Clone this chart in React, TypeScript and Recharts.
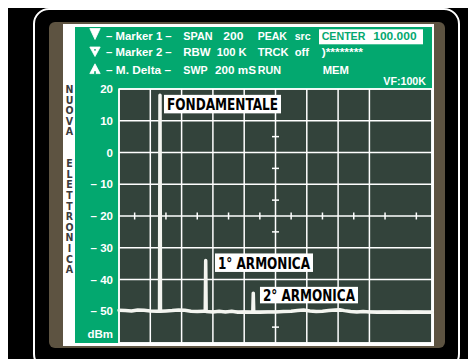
import { LineChart, Line, XAxis, YAxis, CartesianGrid, ReferenceDot, ReferenceArea } from "recharts";

// trace of the analyzer (x = position across the 200 span, y = dBm)
const traceX = [
  0, 4, 8, 12, 16, 20, 24, 25.9, 26.2, 26.5, 30, 34, 38, 42, 46, 50, 54, 55.1, 55.4, 55.7,
  60, 64, 68, 72, 76, 80, 84, 85.5, 85.8, 86.1, 90, 95, 100, 105, 110, 114, 118, 122, 126, 130,
  134, 138, 141, 144, 148, 152, 156, 160, 165, 170, 175, 180, 185, 190, 195, 200,
];
const traceDbm = [
  -49.7, -49.8, -49.9, -49.6, -49.7, -49.9, -50.0, -50.0, 18, -50.0, -49.9, -49.8, -49.6, -49.7, -50.0, -50.1, -50.0, -50.0, -34, -50.1,
  -50.2, -50.0, -50.2, -50.0, -50.3, -50.2, -50.3, -50.3, -44.3, -50.3, -50.3, -50.2, -50.2, -50.1, -50.0, -49.8, -49.6, -49.9, -50.1, -50.0,
  -49.8, -49.6, -49.5, -49.8, -50.1, -50.2, -50.1, -50.2, -50.3, -50.2, -50.3, -50.2, -50.3, -50.2, -50.3, -50.3,
];

const peakNames = ["FONDAMENTALE", "1° ARMONICA", "2° ARMONICA"];
const peakX = [26.2, 55.4, 85.8];
const peakDbm = [18, -34, -44.3];

const yTicks = [-60, -50, -40, -30, -20, -10, 0, 10, 20];
const xTicks = [0, 20, 40, 60, 80, 100, 120, 140, 160, 180, 200];
const midColX = [10, 30, 50, 70, 90, 110, 130, 150, 170, 190];
const midRowY = [15, 5, -5, -15, -25, -35, -45, -55];

const headerRows = [
  ["– Marker 1 –", "SPAN", "200", "PEAK", "src", "CENTER", "100.000"],
  ["– Marker 2 –", "RBW", "100 K", "TRCK", "off", ")********"],
  ["– M.  Delta –", "SWP", "200 mS", "RUN", "", "MEM"],
];
const brandLetters = "NUOVA  ELETTRONICA".split("");

const data = traceX.map((x, i) => ({ x, dbm: traceDbm[i] }));

const GREEN = "#03a86f";
const PLOT = "#33433b";
const BROWN = "#5d5341";
const SANS = "'Liberation Sans', Arial, sans-serif";
const NARROW = "'Liberation Sans Narrow', 'DejaVu Sans Condensed', 'Liberation Sans', sans-serif";

// header column layout: [x, width] per column, per row
const headerCols = [
  [[106, 65.7], [183.3, 29.3], [223.3, 20], [257.7, 29.3], [294.7, 16], [321.7, 43.7], [373.3, 43.3]],
  [[106, 65.7], [183.3, 27.3], [216.7, 30], [257.7, 31], [294.7, 14.3], [321.7, 41.3]],
  [[106, 65], [183.3, 24.3], [215, 41], [257.7, 23.3], [0, 0], [322.7, 26.3]],
];
const rowBase = [40, 56, 73.5];
const labelBox = [
  { dx: 4, dy: -0.5, w: 117, h: 18.5, tw: 111 },
  { dx: 9.3, dy: -7, w: 98, h: 18.5, tw: 92 },
  { dx: 6.7, dy: -6.3, w: 98, h: 16.5, tw: 92 },
];

function DbTick({ x, y, payload }: any) {
  const v = payload.value;
  const style = { fill: "#fff", fontFamily: SANS, fontWeight: 700, fontSize: 11.5 };
  if (v === -60) {
    return (
      <text x={x} y={y - 9} textAnchor="end" dominantBaseline="central" {...style}>
        dBm
      </text>
    );
  }
  return (
    <text x={x} y={y} textAnchor="end" dominantBaseline="central" {...style}>
      {v < 0 ? `– ${-v}` : `${v}`}
    </text>
  );
}

export default function App() {
  return (
    <div style={{ position: "relative", width: 468, height: 351, background: "#000", overflow: "hidden" }}>
      <style>{`body{overflow:hidden}`}</style>
      <div style={{ position: "absolute", left: 25, top: 0, width: 427, height: 362, border: "2px solid #fff", borderRadius: 16, boxSizing: "border-box" }} />
      <div style={{ position: "absolute", left: 41, top: 14, width: 396, height: 326, background: BROWN, borderRadius: 6 }} />
      <div style={{ position: "absolute", left: 55, top: 16, width: 371, height: 322, background: "#fff" }} />
      <div style={{ position: "absolute", left: 67, top: 19, width: 357, height: 316, background: GREEN }} />
      <div style={{ position: "absolute", left: 67, top: 19 }}>
        <LineChart width={360} height={318} data={data} margin={{ top: 62, right: 3, bottom: 2, left: 0 }}>
          <CartesianGrid
            stroke="#fff"
            strokeWidth={1.5}
            fill={PLOT}
            fillOpacity={1}
            horizontalValues={yTicks}
            verticalValues={xTicks}
          />
          <XAxis type="number" dataKey="x" domain={[0, 200]} ticks={xTicks} hide />
          <YAxis
            type="number"
            domain={[-60, 20]}
            ticks={yTicks}
            width={44}
            axisLine={false}
            tickLine={false}
            tickSize={0}
            tickMargin={6}
            interval={0}
            tick={<DbTick />}
          />
          <ReferenceArea x1={0} x2={200} y1={-60} y2={20} fill="none" stroke="#fff" strokeWidth={1.5} ifOverflow="visible" />
          {midColX.map((mx) => (
            <ReferenceDot
              key={"c" + mx}
              x={mx}
              y={-20}
              shape={(p: any) => <line x1={p.cx} x2={p.cx} y1={p.cy - 3.5} y2={p.cy + 3.5} stroke="#fff" strokeWidth={1.5} />}
            />
          ))}
          {midRowY.map((my) => (
            <ReferenceDot
              key={"r" + my}
              x={100}
              y={my}
              shape={(p: any) => <line x1={p.cx - 3.5} x2={p.cx + 3.5} y1={p.cy} y2={p.cy} stroke="#fff" strokeWidth={1.5} />}
            />
          ))}
          <Line
            type="linear"
            dataKey="dbm"
            stroke="#f4f5f0"
            strokeWidth={3.5}
            strokeLinejoin="round"
            strokeLinecap="round"
            dot={false}
            isAnimationActive={false}
          />
          {peakNames.map((name, i) => (
            <ReferenceDot
              key={name}
              x={peakX[i]}
              y={peakDbm[i]}
              ifOverflow="visible"
              shape={(p: any) => {
                const b = labelBox[i];
                const bx = p.cx + b.dx;
                const by = p.cy + b.dy;
                return (
                  <g>
                    <rect x={bx} y={by} width={b.w} height={b.h} fill="#fff" />
                    <text
                      x={bx + 3}
                      y={by + b.h / 2 + 0.5}
                      dominantBaseline="central"
                      fontFamily={NARROW}
                      fontWeight={700}
                      fontSize={16}
                      fill="#000"
                      textLength={b.tw}
                      lengthAdjust="spacingAndGlyphs"
                    >
                      {name}
                    </text>
                  </g>
                );
              }}
            />
          ))}
        </LineChart>
      </div>
      <svg width={468} height={351} style={{ position: "absolute", left: 0, top: 0, pointerEvents: "none" }}>
        <g transform="translate(-8,-8)">
          {/* marker icons */}
          <polygon points="89.8,28.5 100.2,28.5 95,39.5" fill="#fff" stroke="#fff" strokeWidth={0.8} strokeLinejoin="round" />
          <polygon points="89.8,47 100.2,47 95,56.5" fill="#fff" stroke="#fff" strokeWidth={0.8} strokeLinejoin="round" />
          <circle cx={95} cy={49.8} r={0.9} fill={GREEN} />
          <polygon points="95,63.8 100.2,73.6 89.8,73.6" fill="#fff" stroke="#fff" strokeWidth={0.8} strokeLinejoin="round" />
          <rect x={94.2} y={71.2} width={1.6} height={2.8} fill={GREEN} />
          <rect x={319} y={29.3} width={104} height={15} fill="#fff" />
          {headerRows.map((row, r) =>
            row.map((t, c) => {
              if (!t) return null;
              const [x, w] = headerCols[r][c];
              const inBox = r === 0 && c >= 5;
              return (
                <text
                  key={r + "-" + c}
                  x={x}
                  y={rowBase[r]}
                  fill={inBox ? GREEN : "#fff"}
                  fontFamily={SANS}
                  fontWeight={700}
                  fontSize={11.5}
                  textLength={w}
                  lengthAdjust="spacingAndGlyphs"
                >
                  {t}
                </text>
              );
            })
          )}
          <text x={383.3} y={85} fill="#fff" fontFamily={SANS} fontWeight={700} fontSize={11.5} textLength={42.7} lengthAdjust="spacingAndGlyphs">
            VF:100K
          </text>
          {brandLetters.map((ch, i) =>
            ch.trim() ? (
              <text
                key={i}
                x={69.5}
                y={89 + i * 10.6}
                textAnchor="middle"
                dominantBaseline="central"
                fill="#3c3c3c"
                fontFamily={NARROW}
                fontWeight={700}
                fontSize={10.5}
              >
                {ch}
              </text>
            ) : null
          )}
        </g>
      </svg>
    </div>
  );
}
